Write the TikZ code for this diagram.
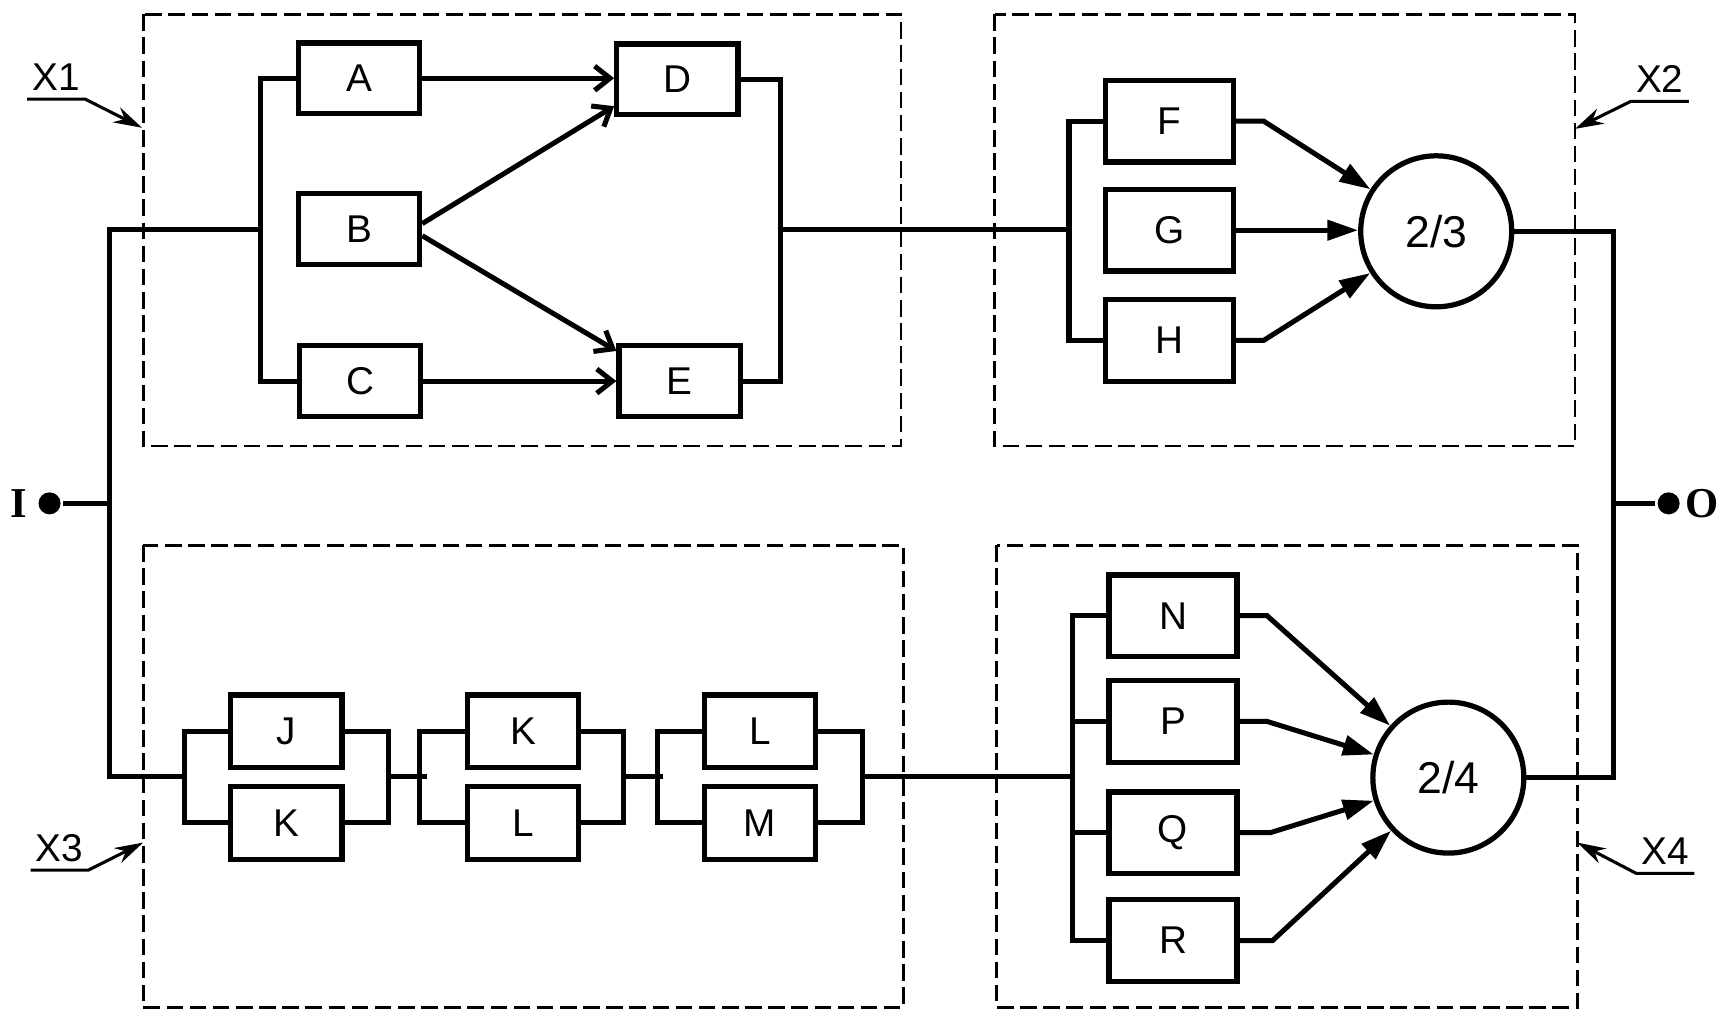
\documentclass[tikz,border=0pt]{standalone}
\usepackage{fontspec}
\setmainfont{Liberation Serif}
\setsansfont{Liberation Sans}
\usetikzlibrary{arrows.meta}

\begin{document}
\begin{tikzpicture}[x=0.01cm,y=-0.01cm,line width=1.3pt,
    block/.style={rectangle,draw,line width=1.35pt,minimum width=1.1cm,minimum height=0.64cm,inner sep=0pt,font=\sffamily\fontsize{10}{12}\selectfont},
    tall block/.style={block,minimum width=1.16cm,minimum height=0.74cm},
    small block/.style={block,minimum width=1.01cm,minimum height=0.66cm},
    vote/.style={circle,draw,line width=1.35pt,minimum size=1.37cm,inner sep=0pt,font=\sffamily\fontsize{11.5}{13}\selectfont},
    group box/.style={draw,line width=0.7pt,dash pattern=on 0.15cm off 0.06cm},
    group tag/.style={anchor=south,minimum width=0.48cm,inner xsep=0pt,inner ysep=1.6pt,font=\sffamily\fontsize{10}{12}\selectfont},
    terminal/.style={circle,fill=black,inner sep=0pt,minimum size=0.2cm},
    port label/.style={font=\bfseries\fontsize{11}{13}\selectfont},
    open arrow/.style={-{Straight Barb[length=1.4mm,width=2.2mm]}},
    vote arrow/.style={-{Triangle[length=2.8mm,width=1.8mm]}},
    pointer/.style={line width=0.8pt,-{Stealth[length=2.6mm,width=1.5mm]}}]
    \useasboundingbox (0,0) rectangle (1568,929);

    % dashed groups
    \draw[group box] (130,13) rectangle (818,405);
    \draw[group box] (903,13) rectangle (1430,405);
    \draw[group box] (130,495) rectangle (820,915);
    \draw[group box] (905,495) rectangle (1432,915);

    \node[group tag] (x1tag) at (51,90) {X1};
    \node[group tag] (x2tag) at (1507,92) {X2};
    \node[group tag] (x3tag) at (54,790) {X3};
    \node[group tag] (x4tag) at (1512,793) {X4};
    \coordinate (x1tip) at (129,116);
    \coordinate (x2tip) at (1430,117);
    \coordinate (x3tip) at (130,765);
    \coordinate (x4tip) at (1432,765);
    \draw[pointer] (x1tag.south west) -- (x1tag.south east) -- (x1tip);
    \draw[pointer] (x2tag.south east) -- (x2tag.south west) -- (x2tip);
    \draw[pointer] (x3tag.south west) -- (x3tag.south east) -- (x3tip);
    \draw[pointer] (x4tag.south east) -- (x4tag.south west) -- (x4tip);

    % X1
    \node[block] (A) at (326,71) {A};
    \node[block] (B) at (326,208) {B};
    \node[block] (C) at (327,346) {C};
    \node[block] (D) at (615,72) {D};
    \node[block] (E) at (617,346) {E};
    \draw (A.west) -- ++(-32,0) |- (C.west);
    \draw (D.east) -- ++(36,0) |- (E.east);
    \draw[open arrow] (A.east) -- (A.east -| D.west);
    \draw[open arrow] (C.east) -- (C.east -| E.west);
    \draw[open arrow] ([yshift=0.05cm]B.east) -- ([yshift=0.1cm]D.south west);
    \draw[open arrow] ([yshift=-0.06cm]B.east) -- ([yshift=-0.07cm]E.north west);

    % X2
    \node[tall block] (F) at (1062,110) {F};
    \node[tall block] (G) at (1062,209) {G};
    \node[tall block] (H) at (1062,309) {H};
    \node[vote] (V1) at (1304,210) {2/3};
    \draw (F.west) -- ++(-31,0) |- (H.west);
    \draw[vote arrow] (F.east) -- ++(25,0) -- (V1);
    \draw[vote arrow] (G.east) -- (G.east -| V1.west);
    \draw[vote arrow] (H.east) -- ++(25,0) -- (V1);

    % X3
    \node[small block] (J) at (260,664) {J};
    \node[small block] (K1) at (260,747) {K};
    \node[small block] (K2) at (475,664) {K};
    \node[small block] (L1) at (475,747) {L};
    \node[small block] (L2) at (690,664) {L};
    \node[small block] (M) at (690,747) {M};
    \draw (J.west) -- ++(-40,0) |- (K1.west);
    \draw (J.east) -- ++(40,0) |- (K1.east);
    \draw (K2.west) -- ++(-41,0) |- (L1.west);
    \draw (K2.east) -- ++(38,0) |- (L1.east);
    \draw (L2.west) -- ++(-40,0) |- (M.west);
    \draw (L2.east) -- ++(40,0) |- (M.east);

    % X4
    \node[tall block] (N) at (1065,559) {N};
    \node[tall block] (P) at (1065,655) {P};
    \node[tall block] (Q) at (1065,756) {Q};
    \node[tall block] (R) at (1065,854) {R};
    \node[vote] (V2) at (1315,706) {2/4};
    \draw (N.west) -- ++(-31,0) |- (R.west);
    \draw (P.west) -- ++(-31,0);
    \draw (Q.west) -- ++(-31,0);
    \draw[vote arrow] (N.east) -- ++(25,0) -- (V2);
    \draw[vote arrow] (P.east) -- ++(25,0) -- (V2);
    \draw[vote arrow] (Q.east) -- ++(28,0) -- (V2);
    \draw[vote arrow] (R.east) -- ++(30,0) -- (V2);

    % main lines
    \coordinate (lt) at (99,208);
    \coordinate (lb) at (99,705);
    \coordinate (x1in) at (239,208);
    \coordinate (x1out) at (706,208);
    \coordinate (x2in) at (973,208);
    \coordinate (rt) at (1465,210);
    \coordinate (rb) at (1465,706);
    \draw (x1in) -- (lt) -- (lb) -- ++(71,0);
    \draw (x1out) -- (x2in);
    \draw ([xshift=0.4cm]J.east |- lb) -- ++(35,0);
    \draw ([xshift=0.38cm]K2.east |- lb) -- ++(36,0);
    \draw ([xshift=0.4cm]L2.east |- lb) -- (976,705);
    \draw (V1.east) -- (rt) -- (rb) -- (V2.east);

    \node[terminal] (in) at (45,457) {};
    \node[port label] (inlabel) at (17,457) {I};
    \node[terminal] (out) at (1515,457) {};
    \node[port label] (outlabel) at (1545,457) {O};
    \draw (in) -- (in -| lt);
    \draw (out) -- (out -| rt);
\end{tikzpicture}
\end{document}
